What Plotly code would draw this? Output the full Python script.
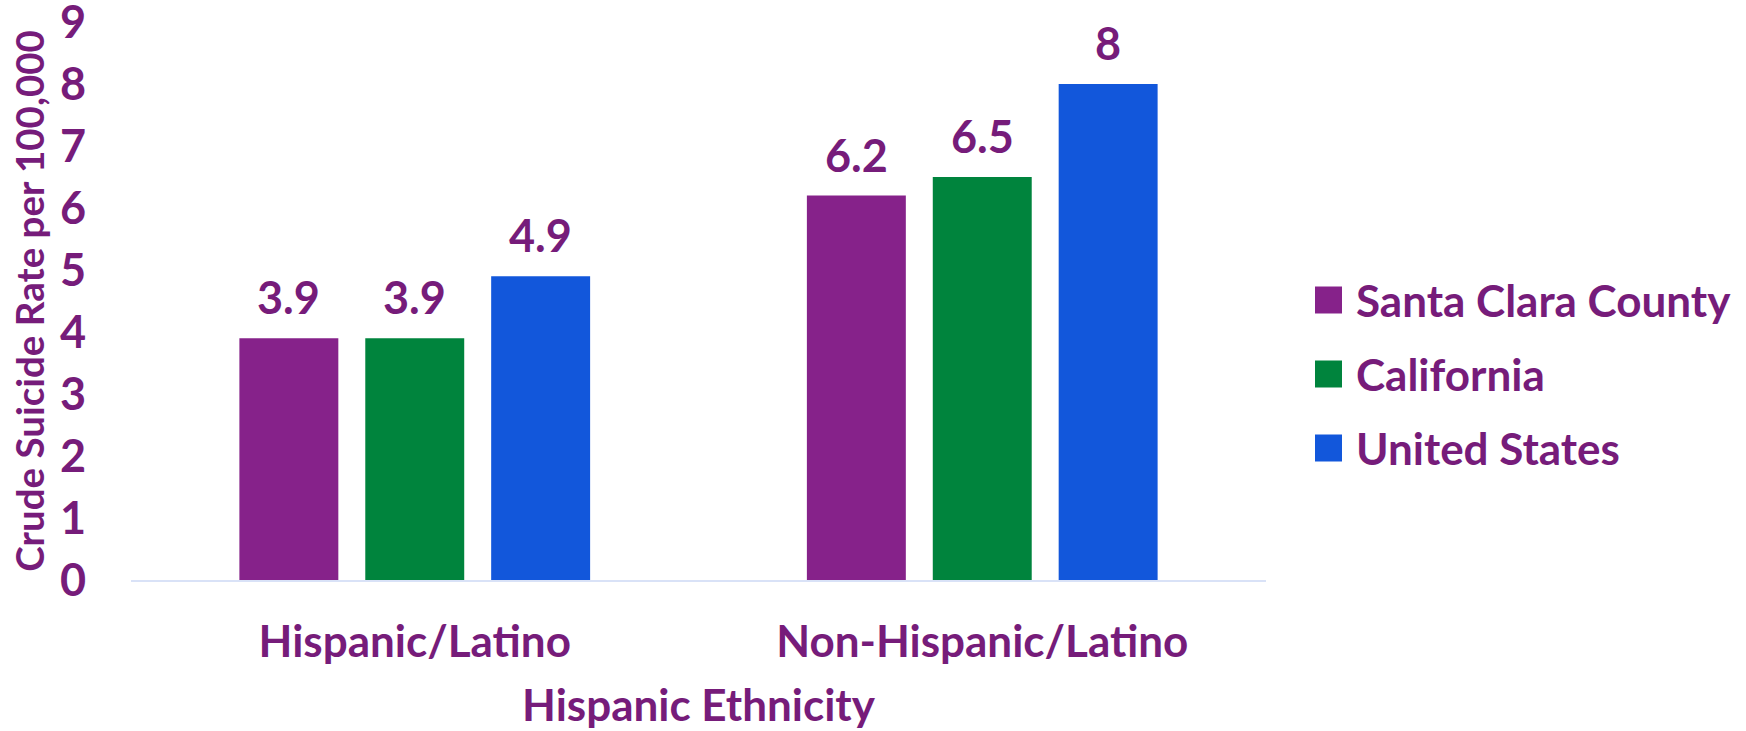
import plotly.graph_objects as go

# Data
categories = ["Hispanic/Latino", "Non-Hispanic/Latino"]
series_names = ["Santa Clara County", "California", "United States"]
santa_clara = [3.9, 6.2]
california = [3.9, 6.5]
united_states = [4.9, 8]
series_values = [santa_clara, california, united_states]
y_ticks = [0, 1, 2, 3, 4, 5, 6, 7, 8, 9]

# Styling
colors = ["#86228A", "#00843D", "#1257DB"]
text_color = "#761C7A"
font_family = "Lato"
W, H = 1746, 731
M_L, M_R, M_T, M_B = 131, 480, 22, 151
BARGAP = 0.3345
BARGROUPGAP = 0.214

fig = go.Figure()
for name, vals, col in zip(series_names, series_values, colors):
    fig.add_trace(go.Bar(
        x=categories, y=vals, name=name,
        marker=dict(color=col, line=dict(width=0)),
        showlegend=False,
    ))

# Value labels above bars
plot_w = W - M_L - M_R
plot_h = H - M_T - M_B
slot = plot_w / len(categories) * (1 - BARGAP) / len(series_names)
annotations = []
for i, vals in enumerate(series_values):
    offset = (i - (len(series_names) - 1) / 2) * slot
    for cat, v in zip(categories, vals):
        annotations.append(dict(
            x=cat, y=v, xref="x", yref="y", text=f"<b>{v:g}</b>",
            showarrow=False, xshift=offset, yshift=41, yanchor="middle",
            font=dict(family=font_family, size=45, color=text_color),
        ))

# Legend drawn as squares + labels to the right of the plot
shapes = []
legend_y0 = 300
legend_step = 74
sw = 27
lx = 1315
for i, (name, col) in enumerate(zip(series_names, colors)):
    cy = legend_y0 + i * legend_step
    shapes.append(dict(
        type="rect", xref="paper", yref="paper",
        x0=(lx - M_L) / plot_w, x1=(lx + sw - M_L) / plot_w,
        y0=(H - M_B - (cy + sw / 2)) / plot_h,
        y1=(H - M_B - (cy - sw / 2)) / plot_h,
        fillcolor=col, line=dict(width=0),
    ))
    annotations.append(dict(
        x=(lx + sw + 12 - M_L) / plot_w, y=(H - M_B - cy) / plot_h,
        xref="paper", yref="paper", xanchor="left", yanchor="middle",
        text=f"<b>{name}</b>", showarrow=False,
        font=dict(family=font_family, size=44, color=text_color),
    ))

fig.update_layout(
    width=W, height=H,
    margin=dict(l=M_L, r=M_R, t=M_T, b=M_B),
    paper_bgcolor="white", plot_bgcolor="white",
    barmode="group", bargap=BARGAP, bargroupgap=BARGROUPGAP,
    showlegend=False,
    font=dict(family=font_family, color=text_color),
    annotations=annotations, shapes=shapes,
    xaxis=dict(
        automargin=False,
        showline=True, linecolor="#D9E2F7", linewidth=2,
        showgrid=False, ticks="", ticklabelstandoff=22,
        tickfont=dict(family=font_family, size=44, color=text_color, weight="bold"),
        title=dict(text="<b>Hispanic Ethnicity</b>", standoff=25,
                   font=dict(family=font_family, size=44, color=text_color)),
    ),
    yaxis=dict(
        automargin=False,
        range=[0, 9.0001], tickvals=y_ticks, showgrid=False, zeroline=False,
        showline=False, ticks="", ticklabelstandoff=44,
        ticklabeloverflow="allow",
        tickfont=dict(family=font_family, size=45, color=text_color, weight="bold"),
        title=dict(text="<b>Crude Suicide Rate per 100,000</b>", standoff=3,
                   font=dict(family=font_family, size=38.5, color=text_color)),
    ),
)

fig.write_html("out.html")
